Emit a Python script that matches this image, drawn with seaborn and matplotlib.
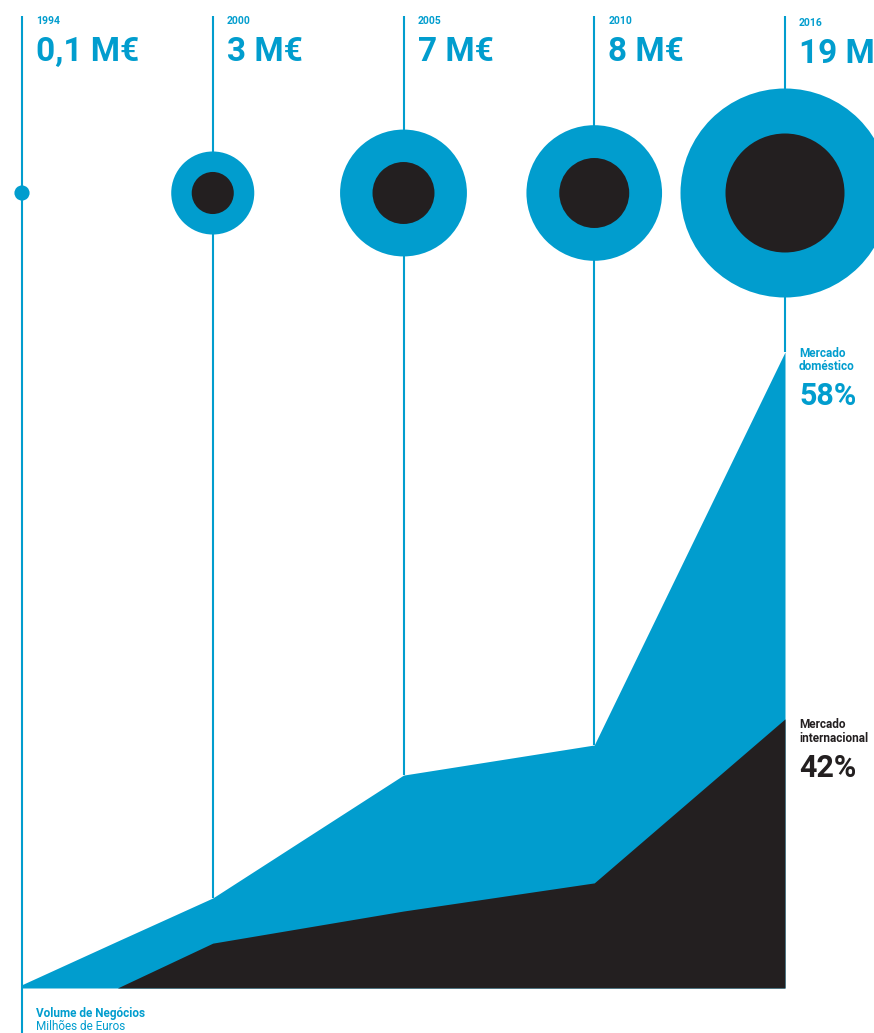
#!/usr/bin/env python3
# -*- coding: utf-8 -*-
#------------------------------------------------------------------------------
# Imports
#------------------------------------------------------------------------------
import numpy as np
import seaborn as sns
import matplotlib
matplotlib.use('Agg')
import matplotlib.pyplot as plt
from matplotlib.transforms import offset_copy

sns.set_theme(style='white')
plt.rcParams['font.family'] = ['Roboto', 'DejaVu Sans']

#------------------------------------------------------------------------------
# Data (volume de negocios, milhoes de euros)
#------------------------------------------------------------------------------
anos = ['1994', '2000', '2005', '2010', '2016']
volume = [0.1, 3, 7, 8, 19]                      # labels / outer circles
volume_txt = ['0,1 M€', '3 M€', '7 M€', '8 M€', '19 M€']
circulo_interior = [0, 0.77, 1.67, 2.13, 6.16]   # inner black circles

# area chart
area_x = [0, 0.5, 1, 2, 3, 4]
total = [0.1, 1.40, 2.69, 6.36, 7.26, 19.0]
internacional = [0, 0, 1.34, 2.30, 3.14, 8.04]

quota_dom = '58%'
quota_int = '42%'

AZUL = '#019DCE'
PRETO = '#231F20'

#------------------------------------------------------------------------------
# Layout helpers
#------------------------------------------------------------------------------
W, H = 874, 1033
X0, DX = 22, 190.75          # px of first column, px between columns
BASE = 988                   # px row of the baseline
PPU = 636 / 19               # px per M€


def py(row):
    # data y from a pixel row (counted from top)
    return (BASE - row) / PPU


def radius_pts(v):
    # circle area proportional to value, 19 M€ -> 104.5 px radius
    r_px = 104.5 * np.sqrt(v / 19.0)
    return (2 * r_px * 0.72) ** 2


fig = plt.figure(figsize=(W / 100, H / 100), dpi=100)
ax = fig.add_axes([0, 0, 1, 1])
ax.set_xlim(-X0 / DX, 4 + (W - X0 - 4 * DX) / DX)
ax.set_ylim(-(H - BASE) / PPU, BASE / PPU)
ax.axis('off')

idx = np.arange(len(anos))

#------------------------------------------------------------------------------
# Vertical lines
#------------------------------------------------------------------------------
top_line = py(16)
line_bottom = [py(H)] + [total[area_x.index(i)] for i in idx[1:]]
ax.vlines(idx, line_bottom, top_line, color=AZUL, lw=1.5, zorder=1)

#------------------------------------------------------------------------------
# Areas
#------------------------------------------------------------------------------
ax.fill_between(area_x, 0, total, color=AZUL, lw=0, zorder=2)
ax.fill_between(area_x, 0, internacional, color=PRETO, lw=0, zorder=3)

#------------------------------------------------------------------------------
# Circles
#------------------------------------------------------------------------------
cy = np.full(len(anos), py(193))
sns.scatterplot(x=idx, y=cy, s=[radius_pts(v) for v in volume], color=AZUL,
                edgecolor='none', linewidth=0, ax=ax, zorder=4, legend=False)
sns.scatterplot(x=idx, y=cy, s=[radius_pts(v) for v in circulo_interior],
                color=PRETO, edgecolor='none', linewidth=0, ax=ax, zorder=5,
                legend=False)

#------------------------------------------------------------------------------
# Text
#------------------------------------------------------------------------------
tr = offset_copy(ax.transData, fig=fig, x=14, y=0, units='dots')
for i, (a, v) in enumerate(zip(anos, volume_txt)):
    dy = 2 if i == len(anos) - 1 else 0
    ax.text(i, py(24 + dy), a, transform=tr, color=AZUL, fontsize=7.5,
            fontweight='bold', va='baseline', ha='left')
    ax.text(i, py(61 + dy), v, transform=tr, color=AZUL, fontsize=24,
            fontweight='bold', va='baseline', ha='left', clip_on=False)

ax.text(4, py(357), 'Mercado', transform=tr, color=AZUL, fontsize=8.5,
        fontweight='bold', va='baseline')
ax.text(4, py(370), 'doméstico', transform=tr, color=AZUL, fontsize=8.5,
        fontweight='bold', va='baseline')
ax.text(4, py(405), quota_dom, transform=tr, color=AZUL, fontsize=22,
        fontweight='bold', va='baseline')

ax.text(4, py(728), 'Mercado', transform=tr, color=PRETO, fontsize=8.5,
        fontweight='bold', va='baseline')
ax.text(4, py(742), 'internacional', transform=tr, color=PRETO, fontsize=8.5,
        fontweight='bold', va='baseline')
ax.text(4, py(777), quota_int, transform=tr, color=PRETO, fontsize=22,
        fontweight='bold', va='baseline')

ax.text(0, py(1017), 'Volume de Negócios', transform=tr, color=AZUL,
        fontsize=8.5, fontweight='bold', va='baseline')
ax.text(0, py(1030), 'Milhões de Euros', transform=tr, color=AZUL,
        fontsize=8.5, va='baseline')

fig.savefig('out.png', dpi=100, facecolor='white')
